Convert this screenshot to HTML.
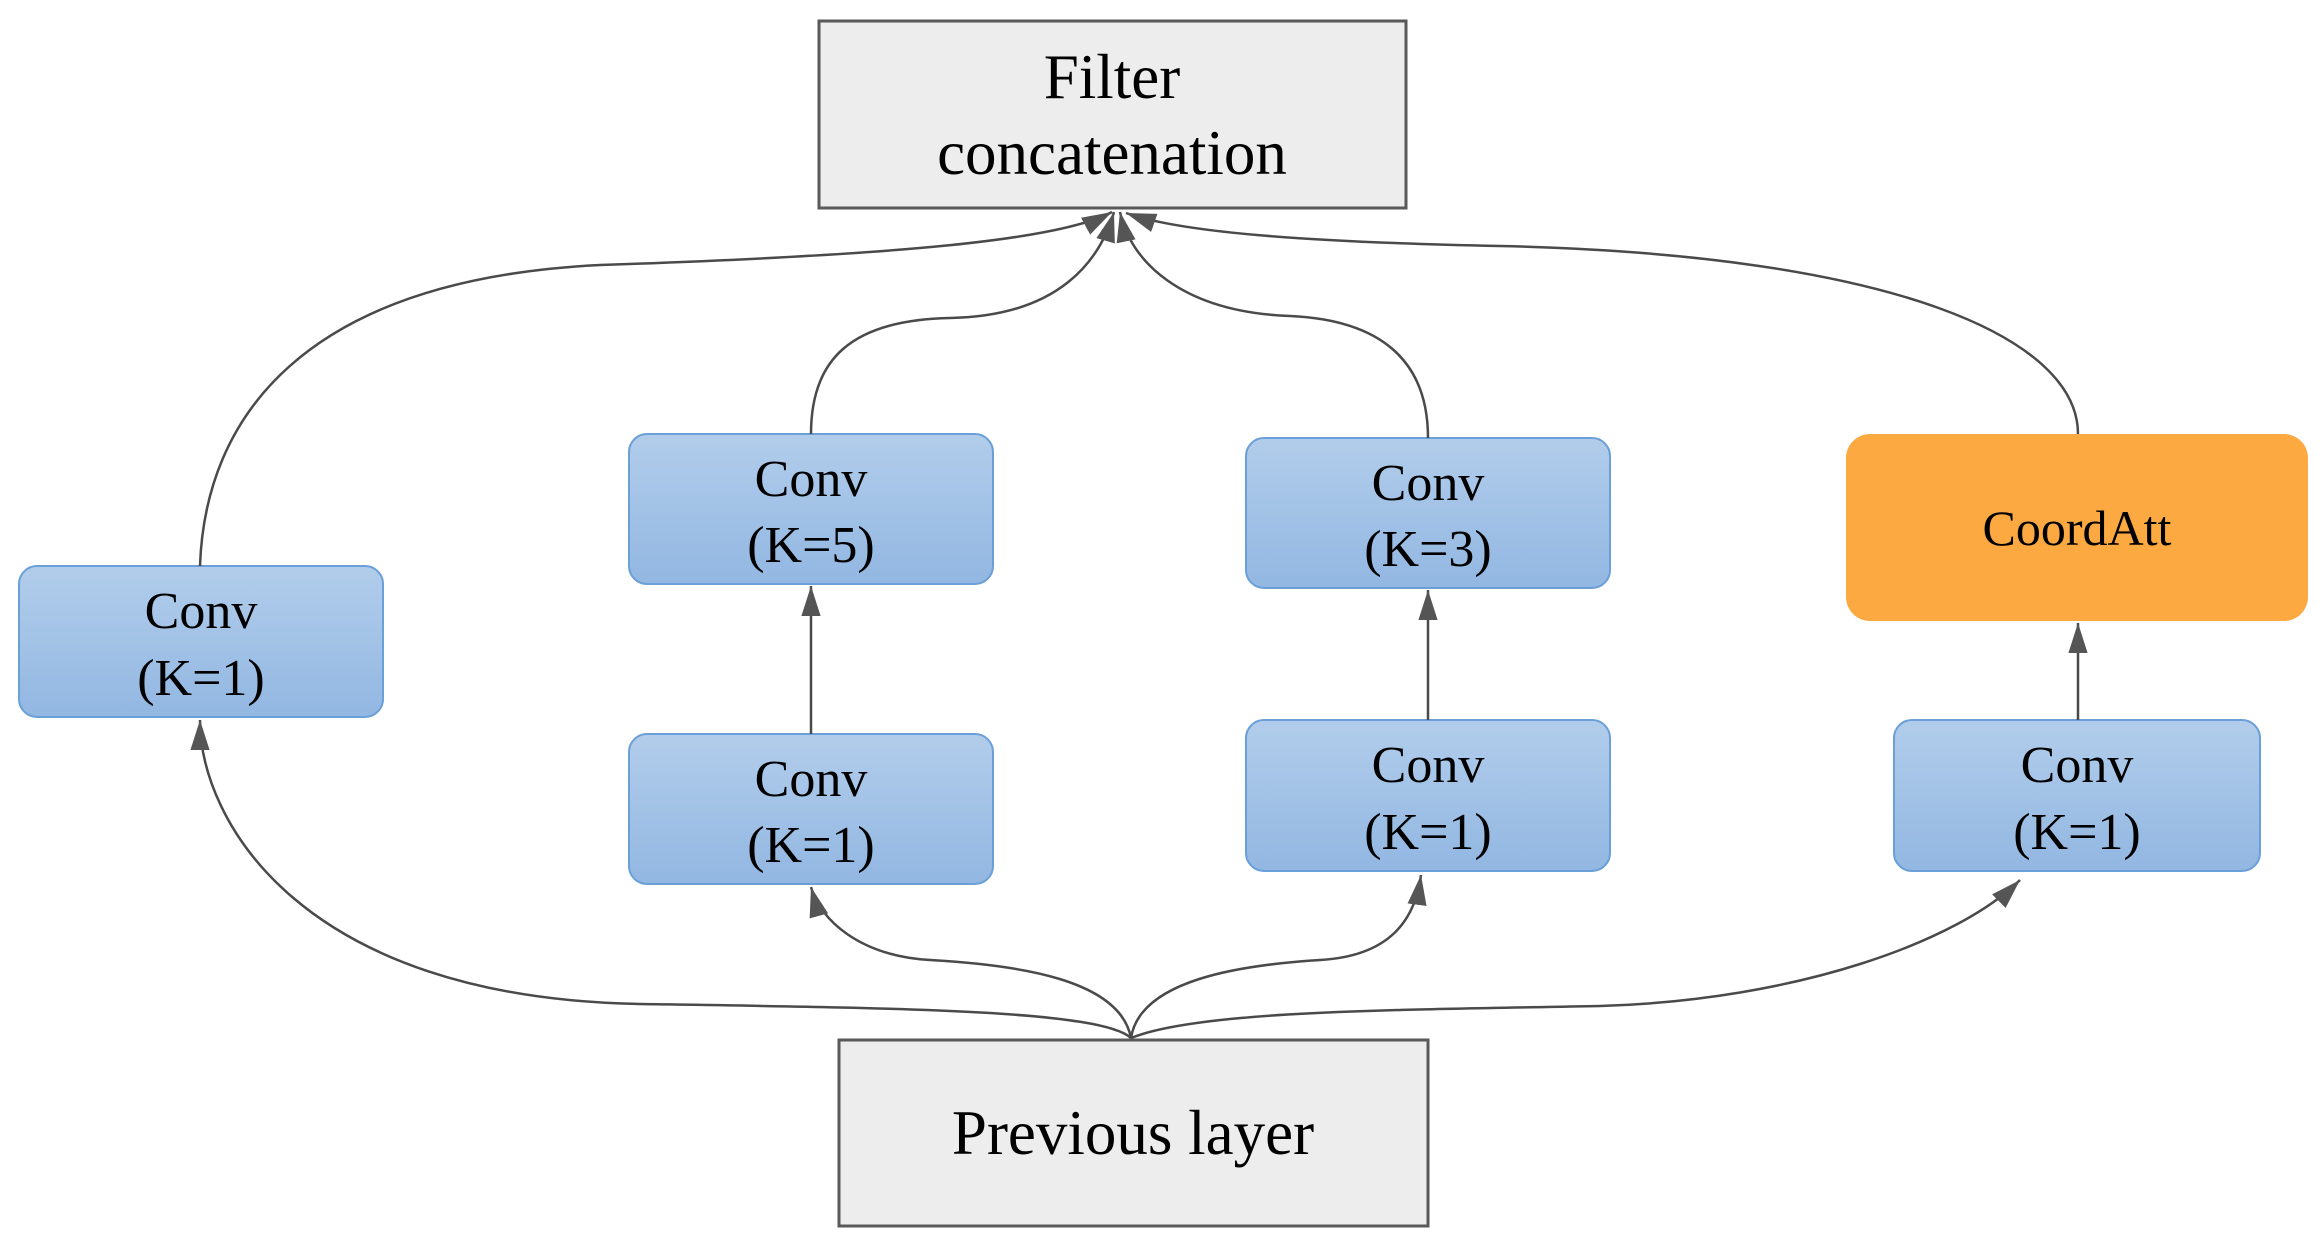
<!DOCTYPE html>
<html><head><meta charset="utf-8"><style>
html,body{margin:0;padding:0;background:#fff;}
svg{display:block;}
text{font-family:"Liberation Serif",serif;fill:#000;text-anchor:middle;}
</style></head><body>
<svg width="2321" height="1244" viewBox="0 0 2321 1244" xmlns="http://www.w3.org/2000/svg">
<defs>
<linearGradient id="bg" x1="0" y1="0" x2="0" y2="1">
<stop offset="0" stop-color="#B2CDEB"/><stop offset="1" stop-color="#92B7E2"/>
</linearGradient>
<marker id="ar" viewBox="0 0 10 10" refX="10" refY="5" markerWidth="30" markerHeight="30" markerUnits="userSpaceOnUse" orient="auto">
<path d="M0,1.8 L10,5 L0,8.2 z" fill="#555"/>
</marker>
</defs>

<rect x="819" y="21" width="587" height="187" fill="#EDEDED" stroke="#595959" stroke-width="3"/>
<text x="1112" y="98" font-size="63">Filter</text>
<text x="1112" y="174" font-size="63">concatenation</text>

<rect x="839" y="1040" width="589" height="186" fill="#EDEDED" stroke="#595959" stroke-width="3"/>
<text x="1133" y="1154" font-size="63">Previous layer</text>

<g stroke="#6A9FD8" stroke-width="2" fill="url(#bg)">
<rect x="19" y="566" width="364" height="151" rx="18"/>
<rect x="629" y="434" width="364" height="150" rx="18"/>
<rect x="629" y="734" width="364" height="150" rx="18"/>
<rect x="1246" y="438" width="364" height="150" rx="18"/>
<rect x="1246" y="720" width="364" height="151" rx="18"/>
<rect x="1894" y="720" width="366" height="151" rx="18"/>
</g>
<rect x="1846" y="434" width="462" height="187" rx="24" fill="#FBA940"/>
<text x="2077" y="545" font-size="50">CoordAtt</text>

<g font-size="52">
<text x="201" y="628">Conv</text><text x="201" y="695">(K=1)</text>
<text x="811" y="496">Conv</text><text x="811" y="562">(K=5)</text>
<text x="811" y="796">Conv</text><text x="811" y="862">(K=1)</text>
<text x="1428" y="500">Conv</text><text x="1428" y="566">(K=3)</text>
<text x="1428" y="782">Conv</text><text x="1428" y="849">(K=1)</text>
<text x="2077" y="782">Conv</text><text x="2077" y="849">(K=1)</text>
</g>

<g fill="none" stroke="#4a4a4a" stroke-width="2.5" marker-end="url(#ar)">
<path d="M200,566 C205,420 300,280 600,265 C900,255 1060,240 1112,212"/>
<path d="M811,434 C811,360 850,320 950,318 C1060,316 1100,260 1114,212"/>
<path d="M1428,438 C1428,360 1380,320 1290,316 C1180,312 1130,260 1120,212"/>
<path d="M2078,434 C2078,340 1900,255 1500,246 C1300,242 1180,232 1126,213"/>
<path d="M1131,1038 C1100,1010 900,1008 640,1004 C300,998 200,820 200,720"/>
<path d="M1131,1038 C1120,980 1020,965 930,960 C860,956 820,920 811,887"/>
<path d="M1131,1038 C1140,980 1240,965 1320,960 C1390,956 1415,920 1421,875"/>
<path d="M1131,1038 C1200,1010 1400,1010 1600,1006 C1800,1000 1960,940 2020,880"/>
<path d="M811,734 L811,586"/>
<path d="M1428,720 L1428,590"/>
<path d="M2078,720 L2078,623"/>
</g>
</svg>
</body></html>
